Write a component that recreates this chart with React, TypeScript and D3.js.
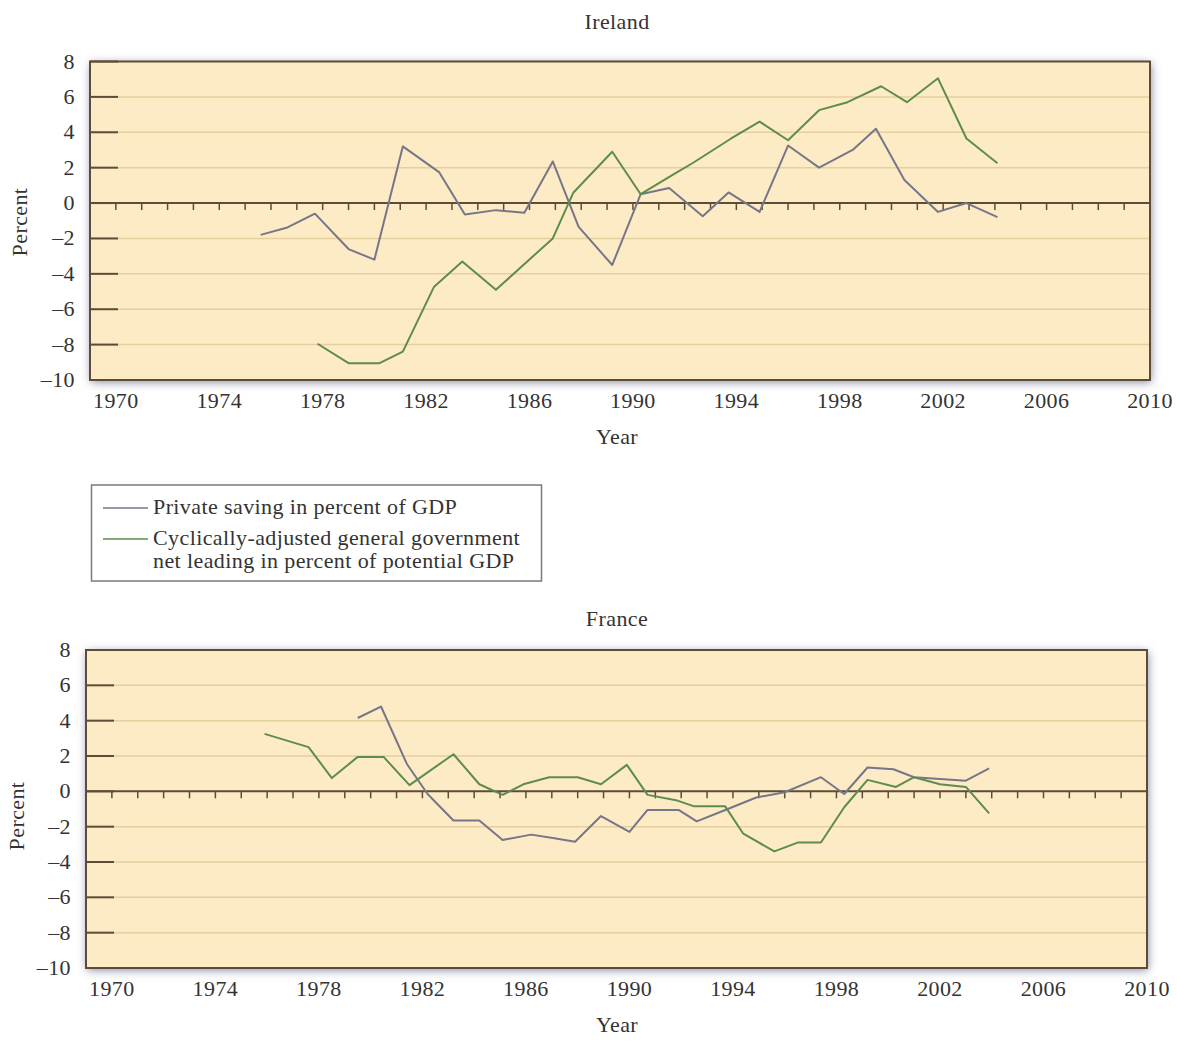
import React from "react";
import * as d3 from "d3";

// ---------- DATA ----------
const yTicks = [-10, -8, -6, -4, -2, 0, 2, 4, 6, 8];
const xLabelYears = [1970, 1974, 1978, 1982, 1986, 1990, 1994, 1998, 2002, 2006, 2010];
const seriesNames = [
  ["Private saving in percent of GDP"],
  ["Cyclically-adjusted general government", "net leading in percent of potential GDP"],
];

const irelandPrivate: [number, number][] = [
  [1975.6, -1.8], [1976.6, -1.4], [1977.7, -0.6], [1979.0, -2.6], [1980.0, -3.2],
  [1981.1, 3.2], [1982.5, 1.75], [1983.5, -0.65], [1984.7, -0.4], [1985.8, -0.55],
  [1986.9, 2.35], [1987.9, -1.35], [1989.2, -3.5], [1990.3, 0.5], [1991.4, 0.85],
  [1992.7, -0.75], [1993.7, 0.6], [1994.9, -0.5], [1996.0, 3.25], [1997.2, 2.0],
  [1998.5, 3.0], [1999.4, 4.2], [2000.5, 1.3], [2001.8, -0.5], [2002.9, 0.0], [2004.1, -0.8],
];
const irelandGov: [number, number][] = [
  [1977.8, -7.95], [1979.0, -9.05], [1980.2, -9.05], [1981.1, -8.4], [1982.3, -4.75],
  [1983.4, -3.3], [1984.7, -4.9], [1986.9, -2.0], [1987.7, 0.6], [1989.2, 2.9],
  [1990.3, 0.5], [1991.6, 1.65], [1992.3, 2.25], [1993.8, 3.65], [1994.9, 4.6],
  [1996.0, 3.55], [1997.2, 5.25], [1998.3, 5.7], [1999.6, 6.6], [2000.6, 5.7],
  [2001.8, 7.05], [2002.9, 3.65], [2004.1, 2.25],
];
const francePrivate: [number, number][] = [
  [1979.5, 4.15], [1980.4, 4.8], [1981.4, 1.55], [1982.2, -0.15], [1983.2, -1.65],
  [1984.2, -1.65], [1985.1, -2.75], [1986.2, -2.45], [1987.1, -2.65], [1987.9, -2.85],
  [1988.9, -1.4], [1990.0, -2.3], [1990.7, -1.05], [1991.9, -1.05], [1992.6, -1.7],
  [1993.8, -1.0], [1994.9, -0.35], [1996.0, -0.05], [1997.4, 0.8], [1998.3, -0.15],
  [1999.2, 1.35], [2000.2, 1.25], [2001.0, 0.8], [2002.0, 0.7], [2003.0, 0.6], [2003.9, 1.3],
];
const franceGov: [number, number][] = [
  [1975.9, 3.25], [1977.6, 2.5], [1978.5, 0.75], [1979.5, 1.95], [1980.5, 1.95],
  [1981.5, 0.35], [1983.2, 2.1], [1984.2, 0.4], [1985.1, -0.2], [1985.9, 0.4],
  [1986.9, 0.8], [1988.0, 0.8], [1988.9, 0.4], [1989.9, 1.5], [1990.7, -0.2],
  [1991.8, -0.5], [1992.5, -0.85], [1993.7, -0.85], [1994.4, -2.4], [1995.6, -3.4],
  [1996.5, -2.9], [1997.4, -2.9], [1998.3, -0.9], [1999.2, 0.65], [2000.3, 0.25],
  [2001.0, 0.8], [2002.0, 0.4], [2003.0, 0.25], [2003.9, -1.25],
];

// ---------- STYLE ----------
const FONT = "'Liberation Serif', 'Times New Roman', serif";
const FS = 22;
const LS = 0.4;
const TEXT = "#333333";
const BG = "#fcebc4";
const GRID = "#e4cf9e";
const AXIS = "#5e4c38";
const GRAY_LINE = "#777689";
const GREEN_LINE = "#5e8c4f";

type PanelProps = {
  title: string;
  left: number;
  right: number;
  top: number;
  bottom: number;
  titleY: number;
  percentX: number;
  percentY: number;
  priv: [number, number][];
  gov: [number, number][];
};

function Panel(p: PanelProps) {
  const x = d3.scaleLinear().domain([1969, 2010]).range([p.left, p.right]);
  const y = d3.scaleLinear().domain([-10, 8]).range([p.bottom, p.top]);
  const line = d3
    .line<[number, number]>()
    .x((d) => x(d[0]))
    .y((d) => y(d[1]));
  const yearTicks = d3.range(1970, 2011);
  const fmt = (v: number) => (v < 0 ? "\u2013" + Math.abs(v) : String(v));
  const y0 = y(0);
  const cx = 617;
  const textProps = { fontSize: FS, fill: TEXT, fontFamily: FONT, letterSpacing: LS };
  return (
    <g>
      <text x={cx} y={p.titleY} textAnchor="middle" {...textProps}>
        {p.title}
      </text>
      <rect
        x={p.left}
        y={p.top}
        width={p.right - p.left}
        height={p.bottom - p.top}
        fill={BG}
        filter="url(#shadow)"
      />
      {yTicks
        .filter((t) => t !== 0 && t !== 8 && t !== -10)
        .map((t) => (
          <line key={"g" + t} x1={p.left} x2={p.right} y1={y(t)} y2={y(t)} stroke={GRID} strokeWidth={1.5} />
        ))}
      {yTicks.map((t) => (
        <line key={"t" + t} x1={p.left} x2={p.left + 28} y1={y(t)} y2={y(t)} stroke={AXIS} strokeWidth={2} />
      ))}
      <rect
        x={p.left}
        y={p.top}
        width={p.right - p.left}
        height={p.bottom - p.top}
        fill="none"
        stroke={AXIS}
        strokeWidth={2}
      />
      <line x1={p.left} x2={p.right} y1={y0} y2={y0} stroke={AXIS} strokeWidth={2} />
      {yearTicks.map((yr) => (
        <line key={"x" + yr} x1={x(yr)} x2={x(yr)} y1={y0} y2={y0 + 7} stroke={AXIS} strokeWidth={1.5} />
      ))}
      {yTicks.map((t) => (
        <text key={"l" + t} x={p.left - 15} y={y(t) + 7} textAnchor="end" {...textProps}>
          {fmt(t)}
        </text>
      ))}
      {xLabelYears.map((yr) => (
        <text key={"xl" + yr} x={x(yr)} y={p.bottom + 28} textAnchor="middle" {...textProps}>
          {yr}
        </text>
      ))}
      <text x={cx} y={p.bottom + 64} textAnchor="middle" {...textProps}>
        Year
      </text>
      <text
        transform={`translate(${p.percentX},${p.percentY}) rotate(-90)`}
        textAnchor="middle"
        {...textProps}
      >
        Percent
      </text>
      <path d={line(p.priv) || ""} fill="none" stroke={GRAY_LINE} strokeWidth={2} strokeLinejoin="round" />
      <path d={line(p.gov) || ""} fill="none" stroke={GREEN_LINE} strokeWidth={2} strokeLinejoin="round" />
    </g>
  );
}

function Legend() {
  const colors = [GRAY_LINE, GREEN_LINE];
  const lineYs = [508, 539];
  return (
    <g>
      <rect x={91.5} y={485} width={450} height={96} fill="#fff" stroke="#7a7a7a" strokeWidth={1.5} />
      {seriesNames.map((lines, i) => (
        <g key={i}>
          <line x1={103} x2={148} y1={lineYs[i]} y2={lineYs[i]} stroke={colors[i]} strokeWidth={1.5} />
          {lines.map((s, j) => (
            <text
              key={j}
              x={153}
              y={lineYs[i] + 6 + j * 23}
              fontSize={FS}
              fill={TEXT}
              fontFamily={FONT}
              letterSpacing={LS}
            >
              {s}
            </text>
          ))}
        </g>
      ))}
    </g>
  );
}

export default function App() {
  return (
    <svg
      width={1177}
      height={1045}
      style={{ position: "absolute", left: 0, top: 0, background: "#fff" }}
    >
      <defs>
        <filter id="shadow" x="-5%" y="-10%" width="110%" height="120%">
          <feDropShadow dx={1} dy={2} stdDeviation={5} floodColor="#64648a" floodOpacity={0.8} />
        </filter>
      </defs>
      <Panel
        title="Ireland"
        left={90}
        right={1150}
        top={61.5}
        bottom={380}
        titleY={29}
        percentX={27}
        percentY={222}
        priv={irelandPrivate}
        gov={irelandGov}
      />
      <Legend />
      <Panel
        title="France"
        left={86}
        right={1147}
        top={650}
        bottom={968}
        titleY={626}
        percentX={24}
        percentY={816}
        priv={francePrivate}
        gov={franceGov}
      />
    </svg>
  );
}
